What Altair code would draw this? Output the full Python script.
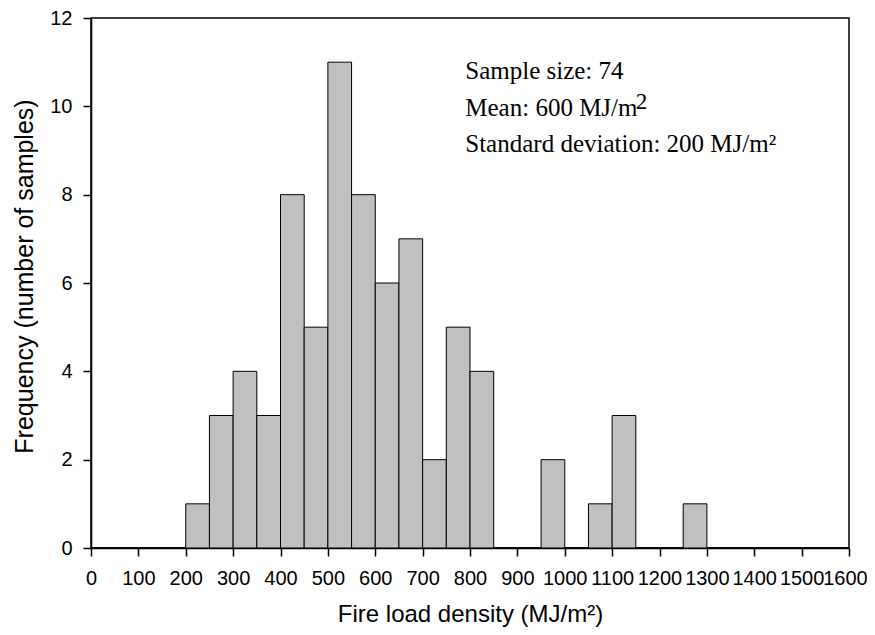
import altair as alt
import pandas as pd

bin_start = [0, 50, 100, 150, 200, 250, 300, 350, 400, 450, 500, 550, 600, 650, 700, 750,
             800, 850, 900, 950, 1000, 1050, 1100, 1150, 1200, 1250, 1300, 1350, 1400, 1450, 1500, 1550]
counts = [0, 0, 0, 0, 1, 3, 4, 3, 8, 5, 11, 8, 6, 7, 2, 5,
          4, 0, 0, 2, 0, 1, 3, 0, 0, 1, 0, 0, 0, 0, 0, 0]
bin_width = 50

df = pd.DataFrame({"start": bin_start, "count": counts})
df["end"] = df["start"] + bin_width

x_ticks = list(range(0, 1601, 100))
y_ticks = list(range(0, 13, 2))

W, H = 758, 530

xs = alt.Scale(domain=[0, 1600], nice=False)
ys = alt.Scale(domain=[0, 12], nice=False)

bars = alt.Chart(df).mark_bar(fill="#c0c0c0", stroke="black", strokeWidth=1).encode(
    x=alt.X("start:Q", scale=xs,
            axis=alt.Axis(values=x_ticks, format="d", title="Fire load density (MJ/m²)", grid=False,
                          labelFontSize=20, titleFontSize=24, tickSize=8, labelPadding=12,
                          titlePadding=14, labelFlush=False, labelOverlap=False,
                          labelOffset={"condition": {"test": "datum.value == 1600", "value": -4},
                                       "value": 0})),
    x2="end:Q",
    y=alt.Y("count:Q", scale=ys,
            axis=alt.Axis(values=y_ticks, format="d", title="Frequency (number of samples)", grid=False,
                          labelFontSize=20, titleFontSize=25, tickSize=8, labelPadding=11,
                          titlePadding=12, labelFlush=False, titleY=258)),
    y2=alt.datum(0),
)

ann_lines = ["Sample size: 74", "Mean: 600 MJ/m", "Standard deviation: 200 MJ/m²"]
ann_x = [790, 790, 790]
ann_y = [10.63, 9.79, 8.96]
ann = pd.DataFrame({"t": ann_lines, "x": ann_x, "y": ann_y})

text = alt.Chart(ann).mark_text(align="left", baseline="alphabetic", font="Liberation Serif",
                                fontSize=25, color="black").encode(
    x=alt.X("x:Q", scale=xs), y=alt.Y("y:Q", scale=ys), text="t:N")

sup = pd.DataFrame({"t": ["2"], "x": [1150], "y": [9.95]})
suptext = alt.Chart(sup).mark_text(align="left", baseline="alphabetic", font="Liberation Serif",
                                   fontSize=23, color="black").encode(
    x=alt.X("x:Q", scale=xs), y=alt.Y("y:Q", scale=ys), text="t:N")

chart = alt.layer(bars, text, suptext).properties(
    width=W, height=H,
    autosize=alt.AutoSizeParams(type="none"),
    padding={"left": 83, "top": 10, "right": 18, "bottom": 79},
).configure_view(stroke="black", strokeWidth=1.5).configure_axis(
    domainColor="black", domainWidth=1.5, tickColor="black", tickWidth=1.5,
    labelColor="black", titleColor="black", labelFont="Liberation Sans",
    titleFont="Liberation Sans", titleFontWeight="normal"
)

chart.save("out.html", embed_options={"renderer": "svg", "actions": False})
